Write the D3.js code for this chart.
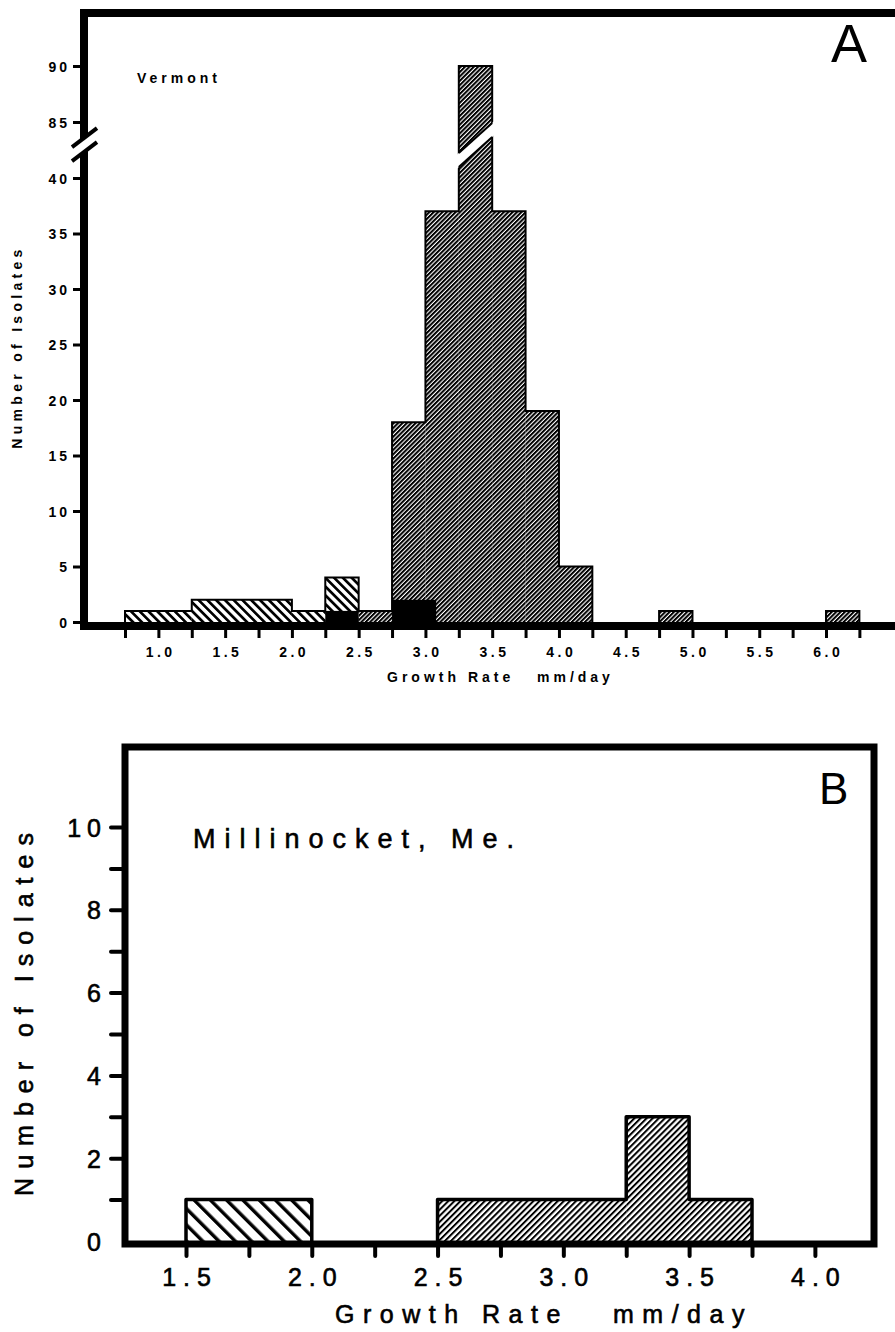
<!DOCTYPE html>
<html>
<head>
<meta charset="utf-8">
<script src="https://cdn.jsdelivr.net/npm/d3@7"></script>
<style>
  body { margin: 0; background: #fff; }
  svg { display: block; font-family: "Liberation Sans", Arial, Helvetica, sans-serif; }
  .heavy { stroke: #000; stroke-width: 0.6px; }
</style>
</head>
<body>
<div id="chart"></div>
<script>
// Panel A - Vermont (bins of growth rate, mm/day)
var vtX0 = [0.75, 1.25, 2.0, 2.25, 2.5, 2.75, 3.0, 3.25, 3.5, 3.75, 4.0, 4.75, 6.0],
    vtX1 = [1.25, 2.0, 2.25, 2.5, 2.75, 3.0, 3.25, 3.5, 3.75, 4.0, 4.25, 5.0, 6.25],
    vtCount = [1, 2, 1, 4, 1, 18, 37, 90, 37, 19, 5, 1, 1],
    vtShade = ["coarse", "coarse", "coarse", "coarse", "fine", "fine", "fine", "fine", "fine", "fine", "fine", "fine", "fine"];
// solid black part at the bottom of some bins
var vtBlackX0 = [2.25, 2.75],
    vtBlackX1 = [2.5, 3.08],
    vtBlackCount = [1, 2];
var vtYTicks = [0, 5, 10, 15, 20, 25, 30, 35, 40, 85, 90];
var vtXTicks = [0.75, 1.0, 1.25, 1.5, 1.75, 2.0, 2.25, 2.5, 2.75, 3.0, 3.25, 3.5, 3.75, 4.0, 4.25, 4.5, 4.75, 5.0, 5.25, 5.5, 5.75, 6.0, 6.25];
var vtXLabels = [1.0, 1.5, 2.0, 2.5, 3.0, 3.5, 4.0, 4.5, 5.0, 5.5, 6.0];

// Panel B - Millinocket, Me.
var meX0 = [1.5, 2.5, 3.25, 3.5],
    meX1 = [2.0, 3.25, 3.5, 3.75],
    meCount = [1, 1, 3, 1],
    meShade = ["coarse", "fine", "fine", "fine"];
var meYTicks = [1, 2, 3, 4, 5, 6, 7, 8, 9, 10];
var meYLabels = [0, 2, 4, 6, 8, 10];
var meXTicks = [1.5, 1.75, 2.0, 2.25, 2.5, 2.75, 3.0, 3.25, 3.5, 3.75, 4.0];
var meXLabels = [1.5, 2.0, 2.5, 3.0, 3.5, 4.0];

var W = 895, H = 1332;
var fmt = d3.format(".1f");

var svg = d3.select("#chart").append("svg")
    .attr("width", W)
    .attr("height", H);

// hatch patterns
var defs = svg.append("defs");
function hatch(id, size, thick, angle) {
  defs.append("pattern")
      .attr("id", id)
      .attr("patternUnits", "userSpaceOnUse")
      .attr("width", size)
      .attr("height", size)
      .attr("patternTransform", "rotate(" + angle + ")")
    .append("rect")
      .attr("width", thick)
      .attr("height", size)
      .attr("fill", "#000");
}
hatch("fineA", 3.1, 2.0, 45);
hatch("coarseA", 6.2, 2.7, -45);
hatch("fineB", 4.3, 2.0, 45);
hatch("coarseB", 11.5, 3.4, -45);

// step outline of contiguous bins
function outline(x0s, x1s, counts, x, y) {
  var p = d3.path(), i = 0;
  while (i < x0s.length) {
    var j = i;
    p.moveTo(x(x0s[i]), y(0));
    while (true) {
      p.lineTo(x(x0s[j]), y(counts[j]));
      p.lineTo(x(x1s[j]), y(counts[j]));
      if (j + 1 < x0s.length && x0s[j + 1] === x1s[j]) j++; else break;
    }
    p.lineTo(x(x1s[j]), y(0));
    i = j + 1;
  }
  return p.toString();
}

// ---------------- Panel A ----------------
var xA = d3.scaleLinear().domain([0.75, 6.0]).range([125, 826]);
var yA = d3.scaleLinear().domain([0, 40, 85, 90]).range([622, 178, 122, 66]);

var gA = svg.append("g");

gA.selectAll(".barA")
    .data(vtCount)
  .enter().append("rect")
    .attr("class", "barA")
    .attr("x", function(d, i) { return xA(vtX0[i]); })
    .attr("width", function(d, i) { return xA(vtX1[i]) - xA(vtX0[i]); })
    .attr("y", function(d) { return yA(d); })
    .attr("height", function(d) { return yA(0) - yA(d); })
    .attr("fill", function(d, i) { return vtShade[i] == "fine" ? "url(#fineA)" : "url(#coarseA)"; });

gA.selectAll(".blackA")
    .data(vtBlackCount)
  .enter().append("rect")
    .attr("class", "blackA")
    .attr("x", function(d, i) { return xA(vtBlackX0[i]); })
    .attr("width", function(d, i) { return xA(vtBlackX1[i]) - xA(vtBlackX0[i]); })
    .attr("y", function(d) { return yA(d); })
    .attr("height", function(d) { return yA(0) - yA(d); })
    .attr("fill", "#000");

gA.append("path")
    .attr("d", outline(vtX0, vtX1, vtCount, xA, yA))
    .attr("fill", "none")
    .attr("stroke", "#000")
    .attr("stroke-width", 2);

// break in the tall column
var bm = (yA(40) + yA(85)) / 2 - 5;
var cx0 = xA(3.25), cx1 = xA(3.5);
var slope = 30 / (cx1 - cx0);
function colY(x, off) { return bm + off - (x - cx0) * slope; }
gA.append("polygon")
    .attr("points", [
      [cx0 - 3, colY(cx0 - 3, 8)], [cx1 + 3, colY(cx1 + 3, 8)],
      [cx1 + 3, colY(cx1 + 3, 22)], [cx0 - 3, colY(cx0 - 3, 22)]
    ].map(function(p) { return p.join(","); }).join(" "))
    .attr("fill", "#fff");
[8, 22].forEach(function(off) {
  gA.append("line")
      .attr("x1", cx0).attr("y1", colY(cx0, off))
      .attr("x2", cx1).attr("y2", colY(cx1, off))
      .attr("stroke", "#000").attr("stroke-width", 2);
});

// frame
gA.append("line").attr("x1", 80).attr("x2", 900).attr("y1", 13).attr("y2", 13)
    .attr("stroke", "#000").attr("stroke-width", 8);
gA.append("line").attr("x1", 84).attr("x2", 84).attr("y1", 9).attr("y2", 630)
    .attr("stroke", "#000").attr("stroke-width", 8);
gA.append("line").attr("x1", 80).attr("x2", 900).attr("y1", 626).attr("y2", 626)
    .attr("stroke", "#000").attr("stroke-width", 8);

// axis break marks
var am = bm, aslope = 0.76;
function axY(x, off) { return am + off - (x - 84) * aslope; }
gA.append("polygon")
    .attr("points", [
      [70, axY(70, -7)], [99, axY(99, -7)], [99, axY(99, 7)], [70, axY(70, 7)]
    ].map(function(p) { return p.join(","); }).join(" "))
    .attr("fill", "#fff");
[-7, 7].forEach(function(off) {
  gA.append("line")
      .attr("x1", 72).attr("y1", axY(72, off))
      .attr("x2", 97).attr("y2", axY(97, off))
      .attr("stroke", "#000").attr("stroke-width", 4);
});

// axes
var gxA = gA.append("g")
    .attr("transform", "translate(0,630)")
    .call(d3.axisBottom(xA).tickValues(vtXTicks).tickSize(8)
      .tickFormat(function(d) { return vtXLabels.indexOf(d) >= 0 ? fmt(d) : ""; }));
gxA.attr("font-family", null).attr("font-size", null);
gxA.select(".domain").remove();
gxA.selectAll(".tick line").attr("stroke-width", 3);
gxA.selectAll(".tick text")
    .attr("y", 27).attr("dy", 0).attr("dx", 1.75)
    .attr("font-size", 14).attr("font-weight", "bold")
    .style("letter-spacing", "3.5px");

var gyA = gA.append("g")
    .attr("transform", "translate(84,0)")
    .call(d3.axisLeft(yA).tickValues(vtYTicks).tickSize(11).tickPadding(6));
gyA.attr("font-family", null).attr("font-size", null);
gyA.select(".domain").remove();
gyA.selectAll(".tick line").attr("stroke-width", 3);
gyA.selectAll(".tick text")
    .attr("dx", 3).attr("dy", "0.36em")
    .attr("font-size", 14).attr("font-weight", "bold")
    .style("letter-spacing", "3px");

gA.append("text")
    .attr("transform", "translate(22,347) rotate(-90)")
    .attr("text-anchor", "middle")
    .attr("font-size", 14).attr("font-weight", "bold")
    .style("letter-spacing", "4.3px")
    .text("Number of Isolates");

var tA = gA.append("text")
    .attr("x", 387).attr("y", 682)
    .attr("font-size", 14).attr("font-weight", "bold")
    .style("letter-spacing", "4px");
tA.append("tspan").text("Growth Rate");
tA.append("tspan").attr("x", 537).text("mm/day");

gA.append("text")
    .attr("x", 137).attr("y", 83)
    .attr("font-size", 14).attr("font-weight", "bold")
    .style("letter-spacing", "4px")
    .text("Vermont");

gA.append("text")
    .attr("x", 831).attr("y", 62)
    .attr("font-size", 54)
    .text("A");

// ---------------- Panel B ----------------
var xB = d3.scaleLinear().domain([1.5, 3.75]).range([186, 752]);
var yB = d3.scaleLinear().domain([0, 10]).range([1241, 827]);

var gB = svg.append("g");

gB.selectAll(".barB")
    .data(meCount)
  .enter().append("rect")
    .attr("class", "barB")
    .attr("x", function(d, i) { return xB(meX0[i]); })
    .attr("width", function(d, i) { return xB(meX1[i]) - xB(meX0[i]); })
    .attr("y", function(d) { return yB(d); })
    .attr("height", function(d) { return yB(0) - yB(d); })
    .attr("fill", function(d, i) { return meShade[i] == "fine" ? "url(#fineB)" : "url(#coarseB)"; });

gB.append("path")
    .attr("d", outline(meX0, meX1, meCount, xB, yB))
    .attr("fill", "none")
    .attr("stroke", "#000")
    .attr("stroke-width", 3.5)
    .attr("stroke-linejoin", "round");

gB.append("rect")
    .attr("x", 125).attr("y", 747)
    .attr("width", 749).attr("height", 497)
    .attr("fill", "none")
    .attr("stroke", "#000")
    .attr("stroke-width", 7);

var gyB = gB.append("g")
    .attr("transform", "translate(125,0)")
    .call(d3.axisLeft(yB).tickValues(meYTicks).tickSize(14).tickFormat(""));
gyB.select(".domain").remove();
gyB.selectAll(".tick line").attr("stroke-width", 4).attr("stroke-linecap", "round");

var gyB2 = gB.append("g")
    .attr("transform", "translate(125,0)")
    .call(d3.axisLeft(yB).tickValues(meYLabels).tickSize(0).tickPadding(24));
gyB2.attr("font-family", null).attr("font-size", null);
gyB2.select(".domain").remove();
gyB2.selectAll(".tick text")
    .attr("class", "heavy")
    .attr("dx", 6).attr("dy", "0.36em")
    .attr("font-size", 25)
    .style("letter-spacing", "6px");

var gxB = gB.append("g")
    .attr("transform", "translate(0,1247)")
    .call(d3.axisBottom(xB).tickValues(meXTicks).tickSize(9)
      .tickFormat(function(d) { return meXLabels.indexOf(d) >= 0 ? fmt(d) : ""; }));
gxB.attr("font-family", null).attr("font-size", null);
gxB.select(".domain").remove();
gxB.selectAll(".tick line").attr("stroke-width", 4).attr("stroke-linecap", "round");
gxB.selectAll(".tick text")
    .attr("class", "heavy")
    .attr("y", 39).attr("dy", 0).attr("dx", 3.5)
    .attr("font-size", 25)
    .style("letter-spacing", "7px");

gB.append("text")
    .attr("class", "heavy")
    .attr("transform", "translate(33,1010) rotate(-90)")
    .attr("text-anchor", "middle")
    .attr("font-size", 25)
    .style("letter-spacing", "9px")
    .text("Number of Isolates");

var tB = gB.append("text")
    .attr("class", "heavy")
    .attr("x", 335).attr("y", 1323)
    .attr("font-size", 25)
    .style("letter-spacing", "8.5px");
tB.append("tspan").text("Growth Rate");
tB.append("tspan").attr("x", 613).text("mm/day");

gB.append("text")
    .attr("class", "heavy")
    .attr("x", 193).attr("y", 848)
    .attr("font-size", 27)
    .style("letter-spacing", "9px")
    .text("Millinocket, Me.");

gB.append("text")
    .attr("x", 819).attr("y", 804)
    .attr("font-size", 44)
    .text("B");
</script>
</body>
</html>
